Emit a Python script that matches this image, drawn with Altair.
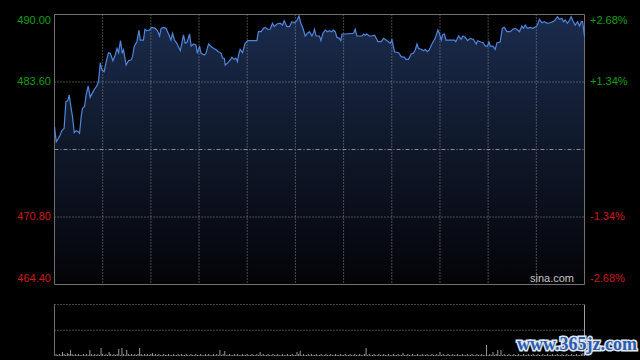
import altair as alt
import pandas as pd

# ---------------- data ----------------
MINUTES = [0, 1.1, 2.5, 3.5, 4.6, 6.0, 7.1, 8.3, 9.2, 10.2, 11.2, 12.3, 13.5, 14.8, 15.6, 16.6, 17.4, 18.7, 19.7, 21.0,
           22.2, 23.7, 24.9, 26.4, 27.4, 28.5, 29.5, 30.9, 32.2, 33.6, 34.7, 36.4, 37.8, 38.9, 39.9, 41.1, 42.2, 43.0, 44.6, 46.1,
           47.6, 48.6, 49.6, 51.3, 52.6, 53.4, 55.4, 56.3, 57.5, 59.2, 60.6, 62.7, 64.1, 65.4, 66.4, 67.9, 69.4, 71.0, 72.5, 73.5,
           74.7, 76.2, 78.3, 79.3, 80.3, 81.4, 82.6, 84.1, 85.1, 86.6, 88.0, 89.0, 90.3, 91.3, 93.4, 94.3, 95.9, 98.0, 100.1, 102.1,
           103.8, 104.6, 105.7, 106.3, 108.0, 109.4, 110.5, 111.7, 113.0, 113.9, 114.6, 115.6, 117.1, 118.7, 120.4, 126.0, 127.0, 128.7, 130.1, 131.2,
           132.6, 134.3, 135.7, 136.8, 138.5, 140.5, 142.0, 143.0, 144.7, 146.3, 147.8, 149.4, 150.9, 152.2, 153.4, 154.7, 156.1, 157.5, 158.8, 160.3,
           161.3, 161.9, 162.9, 165.0, 165.9, 167.1, 168.6, 170.0, 171.2, 172.7, 173.7, 174.8, 175.8, 177.3, 178.3, 179.0, 181.0, 186.2, 187.2, 188.3,
           191.4, 192.4, 193.5, 194.5, 196.1, 197.6, 199.3, 201.4, 203.4, 204.9, 206.4, 208.0, 209.0, 210.1, 211.7, 214.2, 215.9, 217.9, 218.8, 220.4,
           222.1, 223.5, 224.6, 225.7, 226.6, 228.3, 229.8, 230.8, 232.1, 233.3, 235.0, 237.0, 238.7, 239.5, 240.8, 241.6, 242.8, 243.7, 249.1, 249.9,
           251.6, 253.1, 254.3, 255.7, 257.2, 258.8, 260.9, 262.6, 263.4, 265.1, 266.8, 268.2, 269.6, 270.5, 271.3, 273.0, 274.4, 275.5, 277.5, 278.8,
           280.0, 281.7, 283.7, 285.4, 286.9, 288.3, 289.5, 291.0, 292.0, 293.1, 294.5, 296.2, 297.9, 299.9, 300.7, 302.0, 303.5, 304.9, 307.0, 308.6,
           310.3, 311.7, 313.2, 314.4, 315.9, 316.9, 318.0, 319.4, 320.7, 321.7, 322.8, 324.2, 325.7, 326.9, 328.0, 328.8, 330.0]

PRICES = [479.37, 477.94, 478.27, 478.58, 478.99, 479.21, 481.73, 481.83, 482.37, 481.26, 480.31, 478.80, 478.99, 478.89, 478.74, 480.31, 481.11, 481.26, 482.37, 483.22,
          482.15, 482.59, 482.91, 483.25, 483.63, 485.43, 484.74, 484.58, 485.53, 486.38, 486.32, 485.62, 486.16, 486.79, 486.38, 487.52, 486.32, 486.64, 485.21, 485.62,
          485.69, 486.00, 486.95, 487.42, 488.53, 487.58, 487.58, 488.60, 488.47, 488.53, 488.78, 488.69, 488.47, 487.96, 488.69, 488.78, 488.69, 488.15, 487.58, 488.22,
          487.58, 487.27, 486.57, 487.27, 488.06, 487.27, 487.39, 488.15, 487.01, 487.20, 487.11, 486.32, 487.01, 486.32, 486.16, 486.32, 487.20, 486.89, 486.70, 486.47,
          486.32, 485.85, 485.85, 485.21, 485.43, 485.69, 485.94, 485.75, 485.85, 485.53, 486.16, 486.70, 486.38, 487.27, 487.52, 487.52, 488.37, 488.37, 488.69, 488.78,
          488.60, 488.60, 489.17, 488.85, 489.10, 489.17, 489.00, 489.41, 488.85, 488.85, 489.32, 489.22, 489.41, 489.86, 489.17, 488.69, 487.96, 488.22, 488.37, 487.96,
          488.28, 488.60, 487.96, 487.96, 487.52, 488.22, 488.53, 488.37, 488.47, 488.37, 488.53, 488.37, 487.84, 487.74, 487.52, 488.15, 488.15, 488.22, 488.60, 487.96,
          487.96, 488.15, 488.03, 488.15, 487.96, 487.96, 488.03, 487.42, 487.42, 487.74, 487.58, 487.42, 487.27, 487.58, 486.47, 486.38, 486.00, 485.94, 485.75, 485.75,
          486.26, 486.32, 486.64, 487.20, 486.79, 486.70, 486.57, 486.70, 486.47, 486.64, 487.20, 487.74, 488.53, 488.28, 487.58, 488.06, 488.15, 487.58, 487.58, 487.42,
          487.96, 487.64, 487.96, 487.84, 487.52, 487.74, 487.64, 487.20, 487.52, 487.42, 487.33, 487.01, 487.01, 487.42, 487.01, 487.01, 486.70, 487.33, 487.39, 488.69,
          488.78, 488.37, 488.37, 488.60, 488.69, 488.53, 488.37, 488.91, 488.69, 489.00, 488.69, 488.78, 488.69, 488.85, 489.00, 489.54, 489.22, 489.32, 489.17, 489.22,
          489.32, 489.48, 489.79, 489.54, 489.64, 489.32, 489.48, 489.17, 489.48, 489.79, 489.41, 489.00, 489.32, 488.91, 489.32, 489.32, 487.90]

# volume per minute (0..330), relative units
VOLUME = [8, 2, 1, 2, 1, 4, 2, 1, 3, 2, 6, 2, 1, 2, 1, 2, 1, 1, 2, 1, 2, 1, 6, 2, 1, 2, 1, 2, 1, 8,
          2, 1, 2, 1, 4, 2, 1, 2, 1, 2, 7, 1, 8, 2, 1, 6, 2, 1, 2, 1, 2, 1, 2, 8, 2, 1, 2, 1, 2, 1,
          2, 3, 1, 2, 1, 2, 1, 1, 2, 1, 1, 2, 1, 1, 2, 1, 1, 2, 1, 2, 1, 1, 2, 1, 1, 2, 1, 1, 2, 1,
          1, 2, 1, 1, 2, 1, 2, 1, 1, 2, 1, 2, 1, 6, 1, 2, 5, 1, 1, 2, 1, 1, 2, 1, 2, 1, 1, 2, 1, 1,
          2, 1, 1, 2, 1, 1, 2, 1, 4, 1, 2, 1, 1, 2, 1, 1, 2, 1, 1, 2, 1, 1, 2, 1, 1, 2, 1, 1, 2, 1,
          1, 4, 2, 5, 1, 2, 1, 1, 2, 1, 2, 1, 1, 2, 1, 1, 2, 1, 1, 2, 1, 1, 2, 1, 1, 2, 1, 1, 2, 1,
          1, 2, 1, 1, 2, 1, 1, 2, 1, 1, 2, 1, 1, 2, 8, 1, 2, 1, 1, 2, 1, 1, 2, 1, 1, 2, 1, 1, 2, 1,
          1, 2, 1, 1, 2, 1, 1, 3, 1, 1, 2, 1, 1, 2, 1, 1, 2, 1, 1, 2, 1, 1, 2, 1, 1, 2, 1, 1, 2, 1,
          4, 1, 2, 1, 1, 2, 1, 1, 2, 1, 1, 2, 1, 1, 2, 1, 1, 2, 1, 1, 2, 1, 1, 2, 1, 1, 2, 1, 1, 11,
          1, 2, 1, 4, 1, 2, 6, 1, 6, 1, 2, 1, 1, 2, 1, 1, 2, 1, 1, 2, 1, 1, 2, 1, 1, 2, 1, 1, 2, 1,
          1, 2, 1, 1, 2, 1, 1, 2, 1, 1, 2, 1, 1, 2, 1, 1, 2, 1, 1, 2, 1, 1, 2, 1, 1, 2, 1, 1, 2, 3,
          2]
VOL_MINUTES = list(range(len(VOLUME)))

PRICE_TICKS = [490.00, 483.60, 470.80, 464.40]
LEFT_LABELS = ["490.00", "483.60", "470.80", "464.40"]
RIGHT_LABELS = ["+2.68%", "+1.34%", "-1.34%", "-2.68%"]
PREV_CLOSE = 477.20
TIME_GRID = [30, 60, 90, 120, 150, 180, 210, 240, 270, 300]
SESSION = [0, 330]
VOL_PANEL_TOP = 51.5

# ---------------- styling ----------------
GREEN = "#13a013"
RED = "#d01818"
GRID = "#8c8c8c"
BORDER = "#707070"
LINE = "#4f86de"
FONT = "Liberation Sans"

X = alt.Scale(domain=[-33.93, 364.55], nice=False, zero=False)
YP = alt.Scale(domain=[457.242, 491.375], nice=False, zero=False)
YV = alt.Scale(domain=[-4, 356], nice=False, zero=False)

price_df = pd.DataFrame({"m": MINUTES, "price": PRICES})
vol_df = pd.DataFrame({"m": VOL_MINUTES, "vol": VOLUME})
ticks_df = pd.DataFrame({"price": PRICE_TICKS, "left": LEFT_LABELS, "right": RIGHT_LABELS})
frame_df = pd.DataFrame({"t0": [SESSION[0]], "t1": [SESSION[1]],
                         "p0": [PRICE_TICKS[0]], "p1": [PRICE_TICKS[-1]],
                         "base": [PREV_CLOSE], "vtop": [VOL_PANEL_TOP], "vmid": [VOL_PANEL_TOP / 2],
                         "vzero": [0.0]})
hgrid_df = pd.DataFrame({"price": PRICE_TICKS[1:3]})
vgrid_df = pd.DataFrame({"m": TIME_GRID, "p0": PRICE_TICKS[0], "p1": PRICE_TICKS[-1]})


def xq(f):
    return alt.X(f, type="quantitative", scale=X, axis=None)


def yp(f):
    return alt.Y(f, type="quantitative", scale=YP, axis=None)


def yv(f):
    return alt.Y(f, type="quantitative", scale=YV, axis=None)


# ---------------- price panel (one y scale) ----------------
area = alt.Chart(price_df).transform_calculate(floor=str(PRICE_TICKS[-1])).mark_area(
    color=alt.Gradient(gradient="linear",
                       stops=[alt.GradientStop(color="#1a2b4c", offset=0),
                              alt.GradientStop(color="#040407", offset=1)],
                       x1=0, x2=0, y1=0, y2=1)
).encode(x=xq("m"), y=yp("price"), y2="floor:Q")

hgrid = alt.Chart(frame_df).transform_fold(["p0"]).transform_calculate(dummy="0").mark_rule()  # placeholder (unused)

hgrid = alt.Chart(hgrid_df).transform_calculate(t0=str(SESSION[0]), t1=str(SESSION[1])).mark_rule(
    color=GRID, strokeWidth=1, strokeDash=[1, 2]).encode(x=xq("t0:Q"), x2="t1:Q", y=yp("price"))
vgrid = alt.Chart(vgrid_df).mark_rule(color=GRID, strokeWidth=1, strokeDash=[1, 2]).encode(
    x=xq("m"), y=yp("p0"), y2="p1")
baseline = alt.Chart(frame_df).mark_rule(color=GRID, strokeWidth=1, strokeDash=[4, 2, 1, 2]).encode(
    x=xq("t0"), x2="t1", y=yp("base"))
frame = alt.Chart(frame_df).mark_rect(filled=False, stroke=BORDER, strokeWidth=1).encode(
    x=xq("t0"), x2="t1", y=yp("p0"), y2="p1")
line = alt.Chart(price_df).mark_line(color=LINE, strokeWidth=1.2).encode(x=xq("m"), y=yp("price"))

color_cond = alt.condition(alt.datum.price >= PREV_CLOSE, alt.value(GREEN), alt.value(RED))


def label_layer(filter_expr, dy, side):
    if side == "left":
        return alt.Chart(ticks_df).transform_filter(filter_expr).mark_text(
            font=FONT, fontSize=11, align="right", baseline="middle", dy=dy).encode(
            x=alt.value(51), y=yp("price"), text="left:N", color=color_cond)
    return alt.Chart(ticks_df).transform_filter(filter_expr).mark_text(
        font=FONT, fontSize=11, align="left", baseline="middle", dy=dy).encode(
        x=alt.value(590), y=yp("price"), text="right:N", color=color_cond)


f_top = alt.datum.price == PRICE_TICKS[0]
f_bot = alt.datum.price == PRICE_TICKS[-1]
f_mid = (alt.datum.price != PRICE_TICKS[0]) & (alt.datum.price != PRICE_TICKS[-1])
labels = [label_layer(f, d, s) for f, d in [(f_top, 6), (f_mid, 0), (f_bot, -6)] for s in ["left", "right"]]

sina = alt.Chart(frame_df).mark_text(text="sina.com", font=FONT, fontSize=11, color="#c4c4c4",
                                      align="right", baseline="bottom", dy=-1).encode(
    x=alt.value(574), y=yp("p1"))

price_layer = alt.layer(area, hgrid, vgrid, baseline, frame, line, *labels, sina)

# ---------------- volume panel (second y scale) ----------------
vol_bars = alt.Chart(vol_df).transform_calculate(zero="0").mark_rule(color="#9a9a9a", strokeWidth=1).encode(
    x=xq("m"), y=yv("vol"), y2="zero:Q")
vol_top = alt.Chart(frame_df).mark_rule(color=GRID, strokeWidth=1, strokeDash=[1, 2]).encode(
    x=xq("t0"), x2="t1", y=yv("vtop"))
vol_mid = alt.Chart(frame_df).mark_rule(color=GRID, strokeWidth=1, strokeDash=[1, 2]).encode(
    x=xq("t0"), x2="t1", y=yv("vmid"))
vol_left = alt.Chart(frame_df).mark_rule(color=BORDER, strokeWidth=1).encode(
    x=xq("t0"), y=yv("vtop"), y2="vzero")
vol_right = alt.Chart(frame_df).mark_rule(color="#a0a0a0", strokeWidth=1).encode(
    x=xq("t1"), y=yv("vtop"), y2="vzero")

wm_outline = alt.Chart(frame_df).mark_text(text="www.365jz.com", font="Liberation Serif", fontSize=18,
                                            fontWeight="bold", align="left", baseline="alphabetic",
                                            stroke="#dfe6f2", strokeWidth=3, color="#dfe6f2").encode(
    x=alt.value(517), y=yv("vzero"), yOffset=alt.value(-6))
wm_fill = alt.Chart(frame_df).mark_text(text="www.365jz.com", font="Liberation Serif", fontSize=18,
                                         fontWeight="bold", align="left", baseline="alphabetic",
                                         color="#2a5cab").encode(
    x=alt.value(517), y=yv("vzero"), yOffset=alt.value(-6))

vol_layer = alt.layer(vol_bars, vol_top, vol_mid, vol_left, vol_right, wm_outline, wm_fill)

chart = alt.layer(price_layer, vol_layer).resolve_scale(y="independent").properties(
    width=640, height=360, background="#000000",
    autosize=alt.AutoSizeParams(type="none"), padding=0
).configure_view(stroke=None)

chart.save("out.html", embed_options={"renderer": "svg", "actions": False})
